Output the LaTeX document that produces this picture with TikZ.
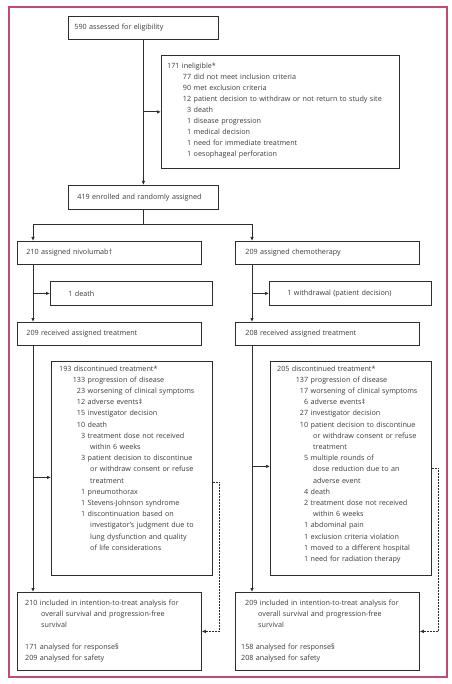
\documentclass[tikz,border=0pt]{standalone}
\usepackage{fontspec}
\setmainfont{Open Sans}
\usetikzlibrary{arrows.meta}
\definecolor{frame}{HTML}{C54B6E}
\definecolor{ink}{HTML}{2E2E2E}
\definecolor{txt}{HTML}{3A3A3A}
\newcommand\numit[3]{\makebox[#1][r]{#2}\hspace{2.5pt}#3}
\newcommand\cont[2]{\hspace*{#1}#2}
\begin{document}
\begin{tikzpicture}[x=1pt,y=-1pt,
  box/.style={draw=ink, line width=0.8pt, rectangle, inner sep=0pt, anchor=north west},
  onebox/.style={box, font=\fontsize{7.2}{11}\selectfont, text=txt, align=left},
  lbl/.style={font=\fontsize{7.2}{11}\selectfont, text=txt, inner sep=0pt, anchor=base west, text width=260pt, align=left},
  lbldisc/.style={lbl, font=\fontsize{7.2}{11.2}\selectfont},
  arr/.style={draw=ink, line width=0.8pt, -{Latex[length=4pt,width=3.5pt]}},
  ln/.style={draw=ink, line width=0.8pt},
  dsh/.style={dash pattern=on 2pt off 1pt, line width=0.7pt}]
\useasboundingbox (0,0) rectangle (451,684);
\draw[frame, line width=1.2pt] (9,7) rectangle (447,677);

% one-line boxes
\node[onebox, minimum width=150pt, minimum height=23pt, text width=138pt, inner xsep=6pt] (a) at (68,16) {590 assessed for eligibility};
\node[onebox, minimum width=150pt, minimum height=24pt, text width=132pt, inner xsep=9pt] (b) at (68,185) {419 enrolled and randomly assigned};
\node[onebox, minimum width=184pt, minimum height=23pt, text width=166pt, inner xsep=9pt] (nivo) at (17,241) {210 assigned nivolumab†};
\node[onebox, minimum width=184pt, minimum height=23pt, text width=164pt, inner xsep=10pt] (chemo) at (235,241) {209 assigned chemotherapy};
\node[onebox, minimum width=162pt, minimum height=24pt, text width=126pt, inner xsep=18pt] (death1) at (50,281) {1 death};
\node[onebox, minimum width=162pt, minimum height=24pt, text width=126pt, inner xsep=18pt] (withd) at (269,281) {1 withdrawal (patient decision)};
\node[onebox, minimum width=184pt, minimum height=23pt, text width=166pt, inner xsep=9pt] (recvL) at (17,322) {209 received assigned treatment};
\node[onebox, minimum width=184pt, minimum height=23pt, text width=164pt, inner xsep=10pt] (recvR) at (235,322) {208 received assigned treatment};

% multi-line boxes
\node[box, minimum width=238pt, minimum height=113pt] (inel) at (161,55) {};
\node[lbl] (inelT) at ([xshift=6pt,yshift=-14pt]inel.north west) {171 ineligible*\\
\numit{24pt}{77}{did not meet inclusion criteria}\\
\numit{24pt}{90}{met exclusion criteria}\\
\numit{24pt}{12}{patient decision to withdraw or not return to study site}\\
\numit{24pt}{3}{death}\\
\numit{24pt}{1}{disease progression}\\
\numit{24pt}{1}{medical decision}\\
\numit{24pt}{1}{need for immediate treatment}\\
\numit{24pt}{1}{oesophageal perforation}};

\node[box, minimum width=161pt, minimum height=214pt] (discL) at (51,361) {};
\node[lbldisc] (discLT) at ([xshift=8pt,yshift=-10pt]discL.north west) {193 discontinued treatment*\\
\numit{26pt}{133}{progression of disease}\\
\numit{26pt}{23}{worsening of clinical symptoms}\\
\numit{26pt}{12}{adverse events‡}\\
\numit{26pt}{15}{investigator decision}\\
\numit{26pt}{10}{death}\\
\numit{26pt}{3}{treatment dose not received}\\
\cont{31pt}{within 6 weeks}\\
\numit{26pt}{3}{patient decision to discontinue}\\
\cont{31pt}{or withdraw consent or refuse}\\
\cont{31pt}{treatment}\\
\numit{26pt}{1}{pneumothorax}\\
\numit{26pt}{1}{Stevens-Johnson syndrome}\\
\numit{26pt}{1}{discontinuation based on}\\
\cont{31pt}{investigator’s judgment due to}\\
\cont{31pt}{lung dysfunction and quality}\\
\cont{31pt}{of life considerations}};

\node[box, minimum width=161pt, minimum height=214pt] (discR) at (270,361) {};
\node[lbldisc] (discRT) at ([xshift=7pt,yshift=-10pt]discR.north west) {205 discontinued treatment*\\
\numit{31pt}{137}{progression of disease}\\
\numit{31pt}{17}{worsening of clinical symptoms}\\
\numit{31pt}{6}{adverse events‡}\\
\numit{31pt}{27}{investigator decision}\\
\numit{31pt}{10}{patient decision to discontinue}\\
\cont{36pt}{or withdraw consent or refuse}\\
\cont{36pt}{treatment}\\
\numit{31pt}{5}{multiple rounds of}\\
\cont{36pt}{dose reduction due to an}\\
\cont{36pt}{adverse event}\\
\numit{31pt}{4}{death}\\
\numit{31pt}{2}{treatment dose not received}\\
\cont{36pt}{within 6 weeks}\\
\numit{31pt}{1}{abdominal pain}\\
\numit{31pt}{1}{exclusion criteria violation}\\
\numit{31pt}{1}{moved to a different hospital}\\
\numit{31pt}{1}{need for radiation therapy}};

\node[box, minimum width=184pt, minimum height=78pt] (finL) at (17,592) {};
\node[lbl] (finLT) at ([xshift=8pt,yshift=-13pt]finL.north west) {210 included in intention-to-treat analysis for\\
\cont{16pt}{overall survival and progression-free}\\
\cont{16pt}{survival}\\[11pt]
171 analysed for response§\\
209 analysed for safety};

\node[box, minimum width=184pt, minimum height=78pt] (finR) at (235,592) {};
\node[lbl] (finRT) at ([xshift=6pt,yshift=-13pt]finR.north west) {\hspace*{4pt}209 included in intention-to-treat analysis for\\
\cont{17pt}{overall survival and progression-free}\\
\cont{17pt}{survival}\\[11pt]
158 analysed for response§\\
208 analysed for safety};

% connectors
\coordinate (colL) at (33,224);
\coordinate (colR) at (252,224);
\draw[arr] (a.south) -- (b.north);
\draw[arr] (a.south |- inel.west) -- (inel.west);
\draw[ln] (b.south) |- (colL);
\draw[ln] (b.south) |- (colR);
\draw[arr] (colL) -- (colL |- nivo.north);
\draw[arr] (colR) -- (colR |- chemo.north);
\draw[arr] (colL |- nivo.south) -- (colL |- recvL.north);
\draw[arr] (colR |- chemo.south) -- (colR |- recvR.north);
\draw[arr] (colL |- death1.west) -- (death1.west);
\draw[arr] (colR |- withd.west) -- (withd.west);
\draw[arr] (colL |- recvL.south) -- (colL |- finL.north);
\draw[arr] (colR |- recvR.south) -- (colR |- finR.north);
\coordinate (dLin) at ([yshift=-9pt]discL.west);
\coordinate (dRin) at ([yshift=2pt]discR.west);
\draw[arr] (colL |- dLin) -- (dLin);
\draw[arr] (colR |- dRin) -- (dRin);
\coordinate (dLout) at ([yshift=-14pt]discL.east);
\draw[arr, dsh] (dLout) -- ++(7,0) |- (finL.east);
\draw[arr, dsh] (discR.east) -- ++(7,0) |- (finR.east);
\end{tikzpicture}
\end{document}
